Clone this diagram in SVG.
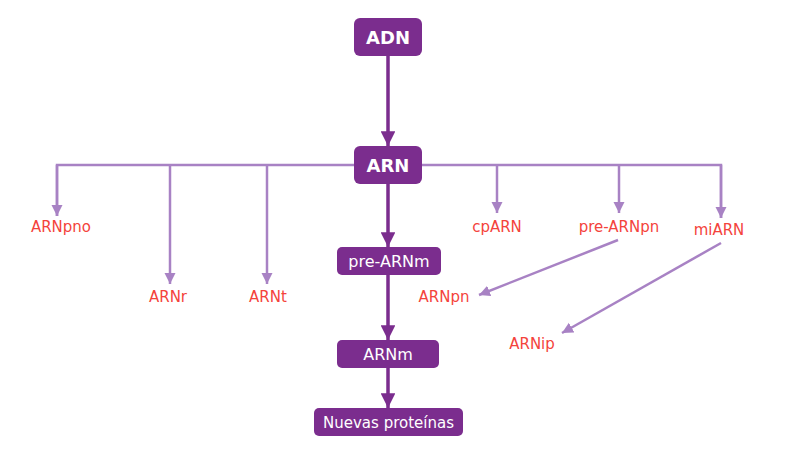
<svg xmlns="http://www.w3.org/2000/svg" width="800" height="458" viewBox="0 0 800 458">
<defs>
<style>
.box{fill:#7b2d8e;}
.bt{fill:#fff;font-family:"DejaVu Sans",Verdana,sans-serif;font-size:16px;text-anchor:middle;}
.bb{font-weight:bold;font-size:18px;}
.lbl{fill:#f4433c;font-family:"DejaVu Sans",Verdana,sans-serif;font-size:15px;text-anchor:middle;}
.dk{stroke:#7b2d8e;stroke-width:3.5;fill:none;}
.lt{stroke:#a882c4;stroke-width:2.5;fill:none;}
</style>
<marker id="ad" viewBox="0 0 10 10" refX="10" refY="5" markerWidth="4.2" markerHeight="4.2" orient="auto" markerUnits="strokeWidth"><path d="M0,0L10,5L0,10z" fill="#7b2d8e"/></marker>
<marker id="al" viewBox="0 0 10 10" refX="10" refY="5" markerWidth="4.4" markerHeight="5" orient="auto" markerUnits="strokeWidth"><path d="M0,0L10,5L0,10z" fill="#a882c4"/></marker>
</defs>
<rect width="800" height="458" fill="#fff"/>
<g id="connectors">
<path class="dk" d="M388,56V146" marker-end="url(#ad)"/>
<path class="dk" d="M388,184V247" marker-end="url(#ad)"/>
<path class="dk" d="M388,274V340" marker-end="url(#ad)"/>
<path class="dk" d="M388,367V408" marker-end="url(#ad)"/>
<path class="lt" d="M57,216V165H721V218"/>
<path class="lt" d="M57,165V216" marker-end="url(#al)"/>
<path class="lt" d="M170,165V284" marker-end="url(#al)"/>
<path class="lt" d="M267,165V284" marker-end="url(#al)"/>
<path class="lt" d="M497,165V213" marker-end="url(#al)"/>
<path class="lt" d="M619,165V213" marker-end="url(#al)"/>
<path class="lt" d="M721,165V218" marker-end="url(#al)"/>
<path class="lt" d="M618,240L479,295" marker-end="url(#al)"/>
<path class="lt" d="M721,243L562,333" marker-end="url(#al)"/>
</g>
<g id="ADN"><rect class="box" x="354" y="18" width="68" height="38" rx="6"/><text class="bt bb" x="388" y="44">ADN</text></g>
<g id="ARN"><rect class="box" x="354" y="146" width="68" height="38" rx="6"/><text class="bt bb" x="388" y="172">ARN</text></g>
<g id="pre-ARNm"><rect class="box" x="337" y="247" width="104" height="28" rx="5"/><text class="bt" x="389" y="267">pre-ARNm</text></g>
<g id="ARNm"><rect class="box" x="337" y="340" width="102" height="28" rx="5"/><text class="bt" x="388" y="360">ARNm</text></g>
<g id="Nuevas"><rect class="box" x="314" y="408" width="149" height="28" rx="5"/><text class="bt" x="388.5" y="428" style="font-size:15px">Nuevas proteínas</text></g>
<g id="ARNpno"><text class="lbl" x="61" y="232">ARNpno</text></g>
<g id="ARNr"><text class="lbl" x="168" y="302">ARNr</text></g>
<g id="ARNt"><text class="lbl" x="268" y="302">ARNt</text></g>
<g id="cpARN"><text class="lbl" x="497" y="232">cpARN</text></g>
<g id="pre-ARNpn"><text class="lbl" x="619" y="232">pre-ARNpn</text></g>
<g id="miARN"><text class="lbl" x="719" y="235">miARN</text></g>
<g id="ARNpn"><text class="lbl" x="444" y="302">ARNpn</text></g>
<g id="ARNip"><text class="lbl" x="532" y="349">ARNip</text></g>
</svg>
